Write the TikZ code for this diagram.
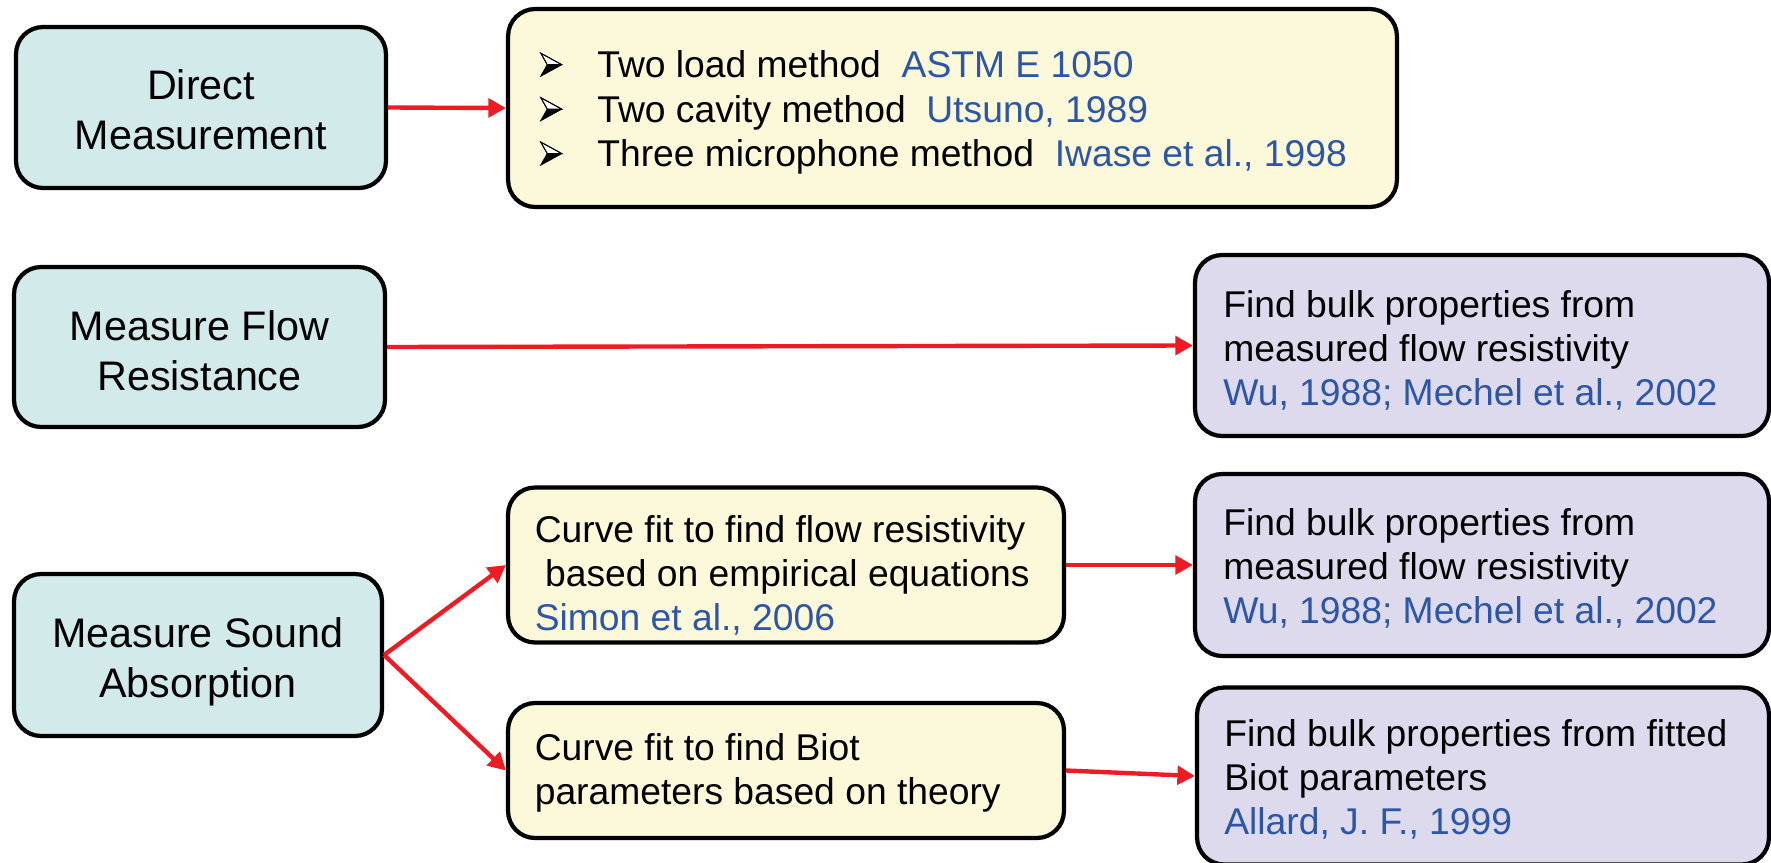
\documentclass[tikz,border=0pt]{standalone}
\usepackage{fontspec}
\setmainfont{Liberation Sans}
\usetikzlibrary{arrows.meta}
\definecolor{tealfill}{HTML}{D2EBEA}
\definecolor{yelfill}{HTML}{FBF9D9}
\definecolor{purfill}{HTML}{DCDAEC}
\definecolor{citeblue}{HTML}{2E56A6}
\definecolor{arrred}{HTML}{ED1C24}
\newcommand{\cit}[1]{\textcolor{citeblue}{#1}}
\newcommand{\bulglyph}{\tikz[x=1cm,y=1cm,baseline={(0,-0.26cm)},line join=miter]{%
  \fill[black] (0,-0.23) -- (0.42,0) -- (0.13,0) -- cycle;
  \filldraw[fill=white,draw=black,line width=0.5pt] (0,0.23) -- (0.42,0) -- (0.13,0) -- cycle;
  \draw[black,line width=0.5pt] (0,0.23) -- (0.42,0) -- (0,-0.23) -- (0.13,0) -- cycle;}}
\newcommand{\bul}{\makebox[1.14cm][l]{\bulglyph}}
\newcommand{\topstrut}[1]{\rule{0pt}{#1}}
\begin{document}
\begin{tikzpicture}[x=0.02cm,y=-0.02cm,
  box/.style={draw=black, line width=2.4pt, rounded corners=0.54cm},
  mainbox/.style={box, fill=tealfill, align=center, font=\fontsize{23.5}{28.5}\selectfont},
  ybox/.style={box, fill=yelfill},
  pbox/.style={box, fill=purfill},
  txt/.style={anchor=west, align=left, inner sep=0pt, font=\fontsize{21.2}{25}\selectfont},
  link/.style={draw=arrred, line width=2.5pt, -{Triangle[length=10pt,width=10.5pt]}}
]
\useasboundingbox (0,0) rectangle (1771,862);

% left column
\node[mainbox, minimum width=7.4cm, minimum height=3.22cm] (dm) at (201,107.5) {\topstrut{19.8pt}Direct\\Measurement};
\node[mainbox, minimum width=7.42cm, minimum height=3.2cm] (mfr) at (199.5,347) {\topstrut{21pt}Measure Flow\\Resistance};
\node[mainbox, minimum width=7.36cm, minimum height=3.24cm] (msa) at (198,655) {\topstrut{25pt}Measure Sound\\Absorption};

% yellow boxes
\node[ybox, minimum width=17.78cm, minimum height=3.96cm] (list) at (952.5,108) {};
\node[txt, font=\fontsize{21.2}{25.3}\selectfont] (listt) at ([xshift=0.68cm,yshift=-0.09cm]list.west)
  {\bul Two load method\ \ \cit{ASTM E 1050}\\
   \bul Two cavity method\ \ \cit{Utsuno, 1989}\\
   \bul Three microphone method\ \ \cit{Iwase et al., 1998}};

\node[ybox, minimum width=11.12cm, minimum height=3.1cm] (y2) at (786,565) {};
\node[txt] (y2t) at ([xshift=0.57cm,yshift=-0.2cm]y2.west)
  {Curve fit to find flow resistivity\\
   \ based on empirical equations\\
   \cit{Simon et al., 2006}};

\node[ybox, minimum width=11.12cm, minimum height=2.7cm] (y3) at (786,770.5) {};
\node[txt] (y3t) at ([xshift=0.57cm,yshift=-0.05cm]y3.west)
  {Curve fit to find Biot\\
   parameters based on theory};

% purple boxes
\node[pbox, minimum width=11.48cm, minimum height=3.62cm] (p1) at (1482,345.5) {};
\node[txt] (p1t) at ([xshift=0.6cm,yshift=-0.09cm]p1.west)
  {Find bulk properties from\\
   measured flow resistivity\\
   \cit{Wu, 1988; Mechel et al., 2002}};

\node[pbox, minimum width=11.48cm, minimum height=3.64cm] (p2) at (1482,565) {};
\node[txt] (p2t) at ([xshift=0.6cm,yshift=-0.07cm]p2.west)
  {Find bulk properties from\\
   measured flow resistivity\\
   \cit{Wu, 1988; Mechel et al., 2002}};

\node[pbox, minimum width=11.44cm, minimum height=3.54cm] (p3) at (1483,776) {};
\node[txt] (p3t) at ([xshift=0.58cm,yshift=-0.07cm]p3.west)
  {Find bulk properties from fitted\\
   Biot parameters\\
   \cit{Allard, J. F., 1999}};

% connectors
\draw[link] (dm.east) -- (list.west);
\draw[link] (mfr.east) -- (p1.west);
\draw[link] (msa.east) -- (y2.west);
\draw[link] (msa.east) -- (y3.west);
\draw[link] (y2.east) -- (p2.west);
\draw[link] (y3.east) -- (p3.west);
\end{tikzpicture}
\end{document}
